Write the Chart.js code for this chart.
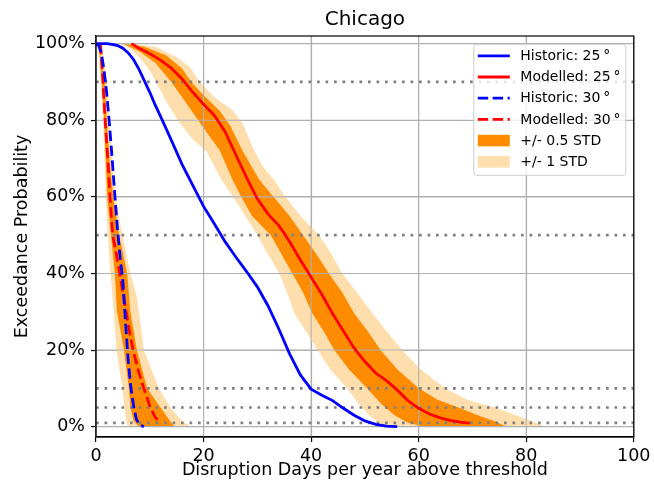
<!DOCTYPE html>
<html><head><meta charset="utf-8">
<script src="https://cdn.jsdelivr.net/npm/chart.js@4"></script>
<style>html,body{margin:0;padding:0;background:#fff;}</style>
</head><body>
<canvas id="c" width="654" height="488"></canvas>
<script>
// ---- tick values ----
const xTicks = [0, 20, 40, 60, 80, 100];
const yTicks = [0, 20, 40, 60, 80, 100];
const refLevels = [90, 50, 10, 5, 1];
const seriesNames = ['Historic: 25\u2009°', 'Modelled: 25\u2009°', 'Historic: 30\u2009°', 'Modelled: 30\u2009°', '+/- 0.5 STD', '+/- 1 STD'];

// ---- series: [days, exceedance %] ----
const hist25 = [[0,100],[2,100],[3,99.8],[4,99.5],[5,98.8],[6,97.6],[7,95.8],[8,93.3],[9,90.3],[10,87.3],[11,84],[12,81],[14,74.8],[16,68.5],[18,63],[20,57.5],[22,53],[24,48.3],[26,44.3],[28,40.5],[30,36.5],[32,31.5],[34,25.5],[36,19],[38,13.5],[40,9.8],[42,8.2],[44,6.8],[46,4.8],[48,3],[50,1.5],[52,0.6],[54,0.15],[56,0]];
const mod25 = [[6.6,100],[8,98.8],[10,97.4],[12,95.7],[14,93.6],[16,90.8],[18,87.3],[20,84.2],[22,81.3],[24,77],[25,74],[26,71],[28,65],[30,59.5],[32,55.5],[34,52.5],[35,50.5],[36,48.3],[38,43.5],[40,39],[42,34.5],[44,29.5],[46,25],[48,20.5],[50,17],[52,14],[54,12],[56,9.6],[58,6.8],[60,4.8],[62,3.3],[64,2.3],[66,1.6],[68,1.1],[69.5,0.9]];
const hist30 = [[0,100],[0.5,99.5],[1,97.5],[1.5,93],[2,87],[2.5,79],[3,70],[3.5,60.5],[4,51.5],[4.5,44],[5,38],[5.5,27],[6,17],[6.5,10],[7,5.3],[7.5,2],[8,0.6],[8.9,0]];
const mod30 = [[0.8,100],[1,97],[1.3,90],[1.7,80],[2.2,70],[2.6,60],[3.1,50],[3.8,45],[4.4,40],[5,35],[5.6,30],[6.2,25],[6.9,20],[7.9,14.5],[8.9,10],[10.1,5],[11,2.5],[12,1]];

// ---- uncertainty bands: lower-left edge and upper-right edge ----
const std1Lo25 = [[4.4,100],[6,99],[8,96.5],[10,93],[11.2,90],[13,85],[15.2,80],[18,75],[20.5,72],[23.3,64.5],[25.5,60],[28,54.5],[30,50],[32,45],[34.1,40],[35.5,35],[36.9,29.6],[39,25],[41.2,20],[43.5,15],[46.7,10],[48.8,6],[50.8,3],[52.6,1],[54,0]];
const std1Hi25 = [[4.4,100],[8,99.8],[11.2,99.1],[14.9,96.5],[17.4,94],[19.3,90],[22,86],[25.4,82.6],[27.3,79],[29.4,72.2],[31,68],[33.1,64.4],[35.2,60],[38,55],[41.5,50],[43.8,45],[45.8,40],[48.5,35],[51.4,29.6],[54,25],[56.9,20],[60.3,15],[64.9,10],[69,7],[74.2,5],[78,3],[81,1.5],[83.5,0]];
const std05Lo25 = [[5,100],[8,98],[11,95],[14,90],[16.5,85],[19,80],[21,76],[23,72.2],[25.4,64.4],[27,60],[29,55],[32.5,50],[34.5,45],[36.5,40],[38.5,35],[40.2,29.6],[42.3,25],[44.3,20],[47,15],[50.4,10],[53,6],[55.5,3],[58,1],[61,0]];
const std05Hi25 = [[5,100],[9,99.2],[13,97],[16,93.5],[17.7,90],[20,86.5],[23,82.5],[25,78.5],[27.2,72.2],[30.4,64.4],[33,60],[36,55],[38.5,50],[41,45],[43.3,40],[45.8,35],[48,29.6],[50.5,25],[52.9,20],[56,15],[60,10],[63.5,7],[67.4,5],[71,3],[74,1.5],[76.4,0]];
const std1Lo30 = [[0.3,100],[0.9,90],[1.3,80],[1.6,70],[1.8,60],[2.2,50],[2.7,40],[3.3,30],[3.8,20],[4.9,10],[5.3,5],[5.7,1],[5.9,0]];
const std1Hi30 = [[0.3,100],[1.2,98],[2.1,90],[2.5,80],[3,70],[3.6,60],[4.9,50],[6.4,40],[7.6,34],[8,30],[8.9,20],[11.7,10],[13.8,5],[16,1.5],[17.7,0]];
const std05Lo30 = [[0.5,100],[1.1,90],[1.5,80],[1.8,70],[2.1,60],[2.8,50],[3.5,40],[3.9,30],[5.2,20],[6.1,10],[6.4,5],[7,1.5],[8,0]];
const std05Hi30 = [[0.5,100],[1.6,90],[2,80],[2.5,70],[3.2,60],[4.3,50],[5.8,40],[6.4,30],[7.6,20],[9.5,10],[12,5],[13.5,2],[14.6,0]];

// ---- styles ----
const BLUE = '#0000ff', RED = '#ff0000', DARK = '#ff8c00', LIGHT = '#ffdead';
const LW = 2.8, DASH = [10.4, 4.5];
const FONT = 'DejaVu Sans';
const FS = 17.5;

const toXY = a => a.map(p => ({x: p[0], y: p[1]}));
const band = (lo, hi) => toXY(lo.concat(hi.slice().reverse()));

function lineDs(label, data, color, dash, order) {
  return {label, data: toXY(data), borderColor: color, backgroundColor: color, borderWidth: LW,
    borderDash: dash, pointRadius: 0, pointHoverRadius: 0, fill: false, tension: 0, order};
}
function bandDs(label, lo, hi, color, order, gridAfter) {
  return {label, data: band(lo, hi), fill: 'shape', backgroundColor: color, borderColor: 'rgba(0,0,0,0)',
    borderWidth: 0.01, pointRadius: 0, pointHoverRadius: 0, tension: 0, order, _gridAfter: gridAfter};
}

const datasets = [
  lineDs(seriesNames[0], hist25, BLUE, [], 0),
  lineDs(seriesNames[1], mod25, RED, [], 1),
  lineDs(seriesNames[2], hist30, BLUE, DASH, 2),
  lineDs(seriesNames[3], mod30, RED, DASH, 3),
  ...refLevels.map((v, i) => ({label: 'ref' + v, data: [{x: xTicks[0], y: v}, {x: xTicks[xTicks.length-1], y: v}],
    borderColor: '#808080', borderWidth: 2.7, borderDash: [2.7, 5.8], pointRadius: 0, fill: false, order: 4 + i})),
  bandDs(seriesNames[4], std05Lo25, std05Hi25, DARK, 10, true),
  bandDs(seriesNames[4], std05Lo30, std05Hi30, DARK, 11, false),
  bandDs(seriesNames[5], std1Lo25, std1Hi25, LIGHT, 12, false),
  bandDs(seriesNames[5], std1Lo30, std1Hi30, LIGHT, 13, false)
];

const legendItems = [
  {label: seriesNames[0], kind: 'line', color: BLUE, dash: []},
  {label: seriesNames[1], kind: 'line', color: RED, dash: []},
  {label: seriesNames[2], kind: 'line', color: BLUE, dash: DASH},
  {label: seriesNames[3], kind: 'line', color: RED, dash: DASH},
  {label: seriesNames[4], kind: 'patch', color: DARK},
  {label: seriesNames[5], kind: 'patch', color: LIGHT}
];

function drawGrid(chart) {
  const {ctx, chartArea: a, scales: {x, y}} = chart;
  ctx.save();
  ctx.strokeStyle = '#b0b0b0';
  ctx.lineWidth = 1.1;
  ctx.beginPath();
  xTicks.forEach(v => { const p = x.getPixelForValue(v); ctx.moveTo(p, a.top); ctx.lineTo(p, a.bottom); });
  yTicks.forEach(v => { const p = y.getPixelForValue(v); ctx.moveTo(a.left, p); ctx.lineTo(a.right, p); });
  ctx.stroke();
  ctx.restore();
}

const overlay = {
  id: 'overlay',
  afterDatasetDraw(chart, args) {
    if (chart.data.datasets[args.index]._gridAfter) drawGrid(chart);
  },
  afterDraw(chart) {
    const {ctx, chartArea: a} = chart;
    ctx.save();
    ctx.strokeStyle = '#000';
    ctx.lineWidth = 1.2;
    ctx.setLineDash([]);
    ctx.strokeRect(a.left, a.top, a.right - a.left, a.bottom - a.top);
    // legend
    const bx = a.right - 160, by = a.top + 8.3, bw = 152, bh = 131;
    ctx.beginPath();
    ctx.roundRect(bx, by, bw, bh, 3);
    ctx.fillStyle = 'rgba(255,255,255,0.8)';
    ctx.fill();
    ctx.strokeStyle = '#cccccc';
    ctx.lineWidth = 1;
    ctx.stroke();
    ctx.font = '14px "' + FONT + '"';
    ctx.textBaseline = 'middle';
    ctx.textAlign = 'left';
    legendItems.forEach((it, i) => {
      const cy = by + 11.5 + i * 21.2;
      const hx = bx + 4, hw = 32;
      if (it.kind === 'line') {
        ctx.strokeStyle = it.color;
        ctx.lineWidth = LW;
        ctx.setLineDash(it.dash);
        ctx.beginPath();
        ctx.moveTo(hx, cy); ctx.lineTo(hx + hw, cy);
        ctx.stroke();
        ctx.setLineDash([]);
      } else {
        ctx.fillStyle = it.color;
        ctx.fillRect(hx, cy - 5.8, hw, 11.6);
      }
      ctx.fillStyle = '#000';
      ctx.fillText(it.label, bx + 46.5, cy + 0.5);
    });
    ctx.restore();
  }
};

Chart.defaults.font.family = FONT;
Chart.defaults.color = '#000';

new Chart(document.getElementById('c'), {
  type: 'line',
  data: {datasets},
  plugins: [overlay],
  options: {
    responsive: false,
    animation: false,
    devicePixelRatio: 1,
    layout: {padding: {left: 0, right: 18, top: 0, bottom: 0}},
    plugins: {
      legend: {display: false},
      tooltip: {enabled: false},
      title: {display: true, text: 'Chicago', fullSize: false, color: '#000',
        font: {size: 20, weight: 'normal', family: FONT}, padding: {top: 8, bottom: 4}}
    },
    scales: {
      x: {
        type: 'linear', min: xTicks[0], max: xTicks[xTicks.length - 1],
        afterFit: s => { s.height = 51; },
        afterBuildTicks: s => { s.ticks = xTicks.map(v => ({value: v})); },
        ticks: {font: {size: FS}, padding: 3.5, maxRotation: 0, autoSkip: false, color: '#000'},
        grid: {color: '#b0b0b0', lineWidth: 1.1, tickColor: '#000', tickLength: 5, tickWidth: 1.2},
        border: {display: true, color: '#000', width: 1.2},
        title: {display: true, text: 'Disruption Days per year above threshold', font: {size: FS}, color: '#000', padding: {top: 0, bottom: 7}}
      },
      y: {
        type: 'linear', min: -2.7, max: 102,
        afterFit: s => { s.width = 96; },
        afterBuildTicks: s => { s.ticks = yTicks.map(v => ({value: v})); },
        ticks: {font: {size: FS}, padding: 6, color: '#000', callback: v => v + '%'},
        grid: {color: '#b0b0b0', lineWidth: 1.1, tickColor: '#000', tickLength: 5, tickWidth: 1.2},
        border: {display: true, color: '#000', width: 1.2},
        title: {display: true, text: 'Exceedance Probability', font: {size: FS}, color: '#000', padding: {top: 11.5, bottom: 0}}
      }
    }
  }
});
</script>
</body></html>
